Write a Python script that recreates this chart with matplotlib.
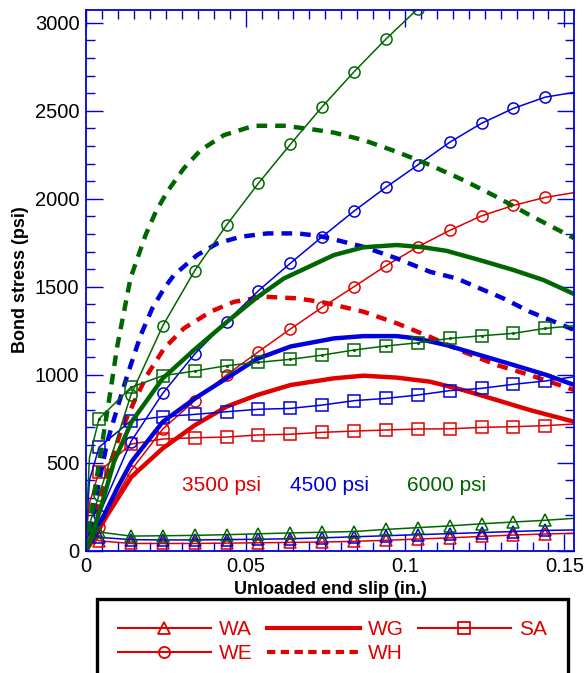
import matplotlib
matplotlib.use("Agg")
import matplotlib.pyplot as plt
from matplotlib.lines import Line2D
from matplotlib.ticker import MultipleLocator

plt.rcParams['font.family'] = ['Liberation Sans', 'DejaVu Sans']

RED = '#e00000'
BLUE = '#0000dd'
GREEN = '#006600'

# slip values (in.) for the thin marked series; markers sit from 0.004 to 0.144
slip_thin = [0, 0.001, 0.004, 0.014, 0.024, 0.034, 0.044, 0.054, 0.064, 0.074,
             0.084, 0.094, 0.104, 0.114, 0.124, 0.134, 0.144, 0.1531]
marked = list(range(2, 17))

# WA (triangles)
wa_3500 = [120, 90, 55, 40, 40, 40, 42, 44, 46, 48, 52, 58, 65, 72, 80, 88, 94, 98]
wa_4500 = [140, 100, 75, 62, 60, 60, 62, 64, 67, 72, 78, 84, 90, 96, 102, 108, 114, 117]
wa_6000 = [170, 125, 105, 82, 84, 86, 90, 95, 100, 104, 108, 120, 130, 140, 152, 162, 172, 183]

# WE (circles)
we_3500 = [60, 95, 132, 454, 691, 852, 998, 1130, 1259, 1383, 1500, 1619, 1727,
           1820, 1903, 1962, 2008, 2035]
we_4500 = [60, 110, 202, 619, 894, 1117, 1301, 1477, 1633, 1784, 1930, 2065, 2192,
           2321, 2429, 2514, 2578, 2605]
we_6000 = [60, 150, 315, 884, 1278, 1591, 1850, 2088, 2309, 2523, 2722, 2908, 3080,
           3250, 3400, 3540, 3660, 3760]

# SA (squares)
sa_3500 = [100, 270, 448, 605, 634, 641, 645, 657, 661, 672, 679, 685, 691, 692,
           700, 704, 710, 719]
sa_4500 = [120, 400, 587, 738, 761, 774, 789, 803, 808, 827, 852, 865, 884, 909,
           922, 945, 964, 988]
sa_6000 = [150, 530, 748, 928, 994, 1020, 1051, 1070, 1087, 1111, 1140, 1163, 1181,
           1206, 1221, 1235, 1263, 1278]

# WG (thick solid)
wg_3500_x = [0, 0.0024, 0.0066, 0.0142, 0.024, 0.0341, 0.044, 0.0536, 0.0641, 0.0777,
             0.0869, 0.0974, 0.1078, 0.1183, 0.1287, 0.1391, 0.1531]
wg_3500_y = [0, 69, 202, 420, 581, 713, 818, 884, 941, 979, 994, 983, 960, 912, 856,
             799, 732]
wg_4500_x = [0, 0.0014, 0.0056, 0.0097, 0.0142, 0.024, 0.0341, 0.044, 0.0536, 0.0641,
             0.0777, 0.0869, 0.0974, 0.1036, 0.113, 0.1235, 0.134, 0.1444, 0.1531]
wg_4500_y = [0, 69, 202, 354, 505, 732, 865, 979, 1090, 1160, 1206, 1219, 1219, 1206,
             1168, 1111, 1055, 998, 941]
wg_6000_x = [0, 0.0014, 0.0045, 0.0087, 0.0142, 0.024, 0.0338, 0.0442, 0.0536, 0.062,
             0.0777, 0.0869, 0.0974, 0.1057, 0.113, 0.1235, 0.134, 0.1434, 0.1531]
wg_6000_y = [0, 69, 240, 505, 732, 979, 1140, 1301, 1440, 1547, 1680, 1724, 1737,
             1724, 1704, 1651, 1595, 1538, 1458]

# WH (thick dashed)
wh_3500_x = [0, 0.0014, 0.004, 0.0071, 0.0108, 0.015, 0.0191, 0.0244, 0.0306, 0.039,
             0.0463, 0.0557, 0.0662, 0.0746, 0.0869, 0.0974, 0.1078, 0.1183, 0.1287,
             0.1391, 0.1531]
wh_3500_y = [0, 126, 277, 467, 675, 846, 998, 1149, 1263, 1358, 1414, 1443, 1434,
             1410, 1358, 1292, 1215, 1130, 1055, 998, 912]
wh_4500_x = [0, 0.002, 0.004, 0.0066, 0.0097, 0.0129, 0.0171, 0.0207, 0.0244, 0.0275,
             0.0348, 0.0411, 0.0484, 0.0568, 0.0662, 0.0725, 0.0764, 0.0869, 0.0974,
             0.1078, 0.1162, 0.1235, 0.1308, 0.1391, 0.1531]
wh_4500_y = [0, 202, 391, 619, 808, 998, 1225, 1377, 1490, 1566, 1680, 1746, 1784,
             1803, 1803, 1790, 1775, 1727, 1661, 1585, 1547, 1490, 1434, 1358, 1254]
wh_6000_x = [0, 0.0014, 0.0035, 0.0056, 0.0077, 0.0097, 0.0139, 0.0186, 0.0218,
             0.0254, 0.0306, 0.0359, 0.0432, 0.0526, 0.062, 0.0704, 0.0777, 0.0869,
             0.0974, 0.1078, 0.1183, 0.1287, 0.1391, 0.1531]
wh_6000_y = [0, 200, 440, 680, 920, 1160, 1550, 1794, 1926, 2040, 2173, 2277, 2362,
             2415, 2415, 2396, 2376, 2334, 2267, 2192, 2106, 2011, 1907, 1775]

strength_labels = ['3500 psi', '4500 psi', '6000 psi']
label_x = [0.0425, 0.0764, 0.113]
label_y = 372

fig = plt.figure(figsize=(5.85, 6.73), dpi=100)
ax = fig.add_axes([0.1475, 0.182, 0.8342, 0.8036])

thin = dict(lw=1.1, markersize=8, markerfacecolor='none', markeredgewidth=1.1)
dash = (2.4, 1.8)

for col, wa, we, sa, wgx, wgy, whx, why in [
        (RED, wa_3500, we_3500, sa_3500, wg_3500_x, wg_3500_y, wh_3500_x, wh_3500_y),
        (BLUE, wa_4500, we_4500, sa_4500, wg_4500_x, wg_4500_y, wh_4500_x, wh_4500_y),
        (GREEN, wa_6000, we_6000, sa_6000, wg_6000_x, wg_6000_y, wh_6000_x, wh_6000_y)]:
    ax.plot(wgx, wgy, color=col, lw=3.2, solid_capstyle='butt')
    ax.plot(whx, why, color=col, lw=3.2, linestyle=(0, dash))
    ax.plot(slip_thin, wa, color=col, marker='^', markevery=marked, **thin)
    ax.plot(slip_thin, we, color=col, marker='o', markevery=marked, **thin)
    ax.plot(slip_thin, sa, color=col, marker='s', markevery=marked, **thin)
    if col == GREEN:
        ax.plot(slip_thin, sa, linestyle='none', marker='.', markersize=2.5,
                color=col, markevery=marked)

for txt, lx, col in zip(strength_labels, label_x, [RED, BLUE, GREEN]):
    ax.text(lx, label_y, txt, color=col, fontsize=15, ha='center', va='center')

ax.set_xlim(0, 0.1531)
ax.set_ylim(0, 3075)
ax.set_xticks([0, 0.05, 0.1, 0.15])
ax.set_xticklabels(['0', '0.05', '0.1', '0.15'])
ax.set_yticks([0, 500, 1000, 1500, 2000, 2500, 3000])
ax.xaxis.set_minor_locator(MultipleLocator(0.005))
ax.yaxis.set_minor_locator(MultipleLocator(100))
ax.tick_params(which='both', direction='in', top=True, right=True, color=BLUE,
               labelsize=14.5, labelcolor='black')
ax.tick_params(which='major', length=12, width=1.0, pad=5)
ax.tick_params(which='minor', length=6.5, width=1.0)
for sp in ax.spines.values():
    sp.set_color(BLUE)
    sp.set_linewidth(1.3)

ax.set_xlabel('Unloaded end slip (in.)', fontsize=13, fontweight='bold', labelpad=3)
ax.set_ylabel('Bond stress (psi)', fontsize=13, fontweight='bold', labelpad=4)

handles = [
    Line2D([], [], color=RED, lw=1.5, marker='^', markersize=8, markerfacecolor='none',
           markeredgewidth=1.3),
    Line2D([], [], color=RED, lw=1.5, marker='o', markersize=8, markerfacecolor='none',
           markeredgewidth=1.3),
    Line2D([], [], color=RED, lw=3.0),
    Line2D([], [], color=RED, lw=3.0, linestyle=(0, (2.0, 1.3))),
    Line2D([], [], color=RED, lw=1.5, marker='s', markersize=8, markerfacecolor='none',
           markeredgewidth=1.3),
]
leg = fig.legend(handles, ['WA', 'WE', 'WG', 'WH', 'SA'], ncol=3,
                 loc='upper left', bbox_to_anchor=(97 / 585, 1 - 599 / 673),
                 fontsize=15, labelcolor=RED, handlelength=4.47, handletextpad=0.38,
                 columnspacing=0.68, borderpad=1.0, labelspacing=0.25,
                 fancybox=False, framealpha=1, borderaxespad=0)
leg.get_frame().set_edgecolor('black')
leg.get_frame().set_linewidth(2.4)

fig.savefig('out.png', dpi=100)
